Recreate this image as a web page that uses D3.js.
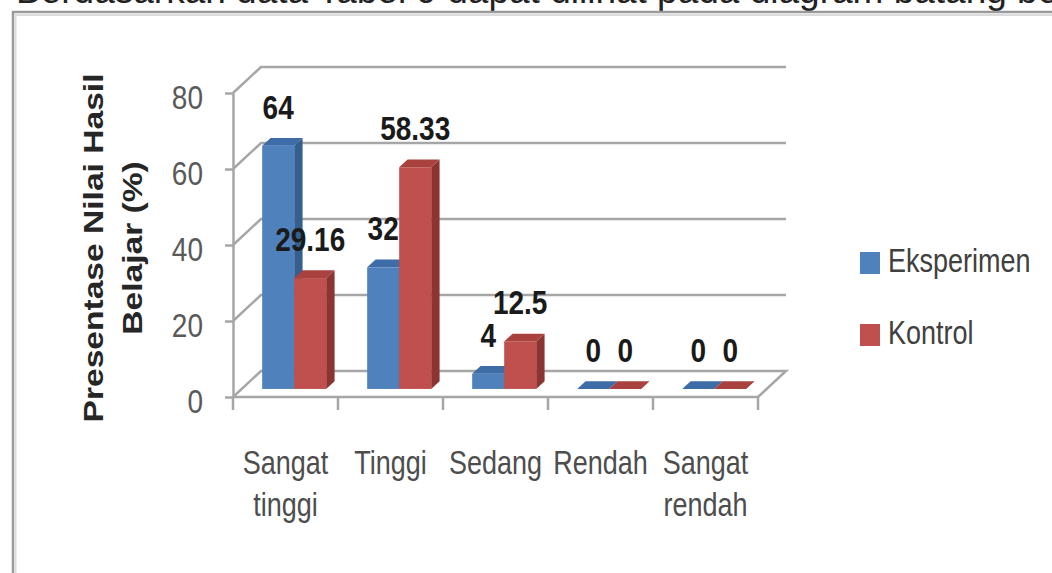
<!DOCTYPE html>
<html>
<head>
<meta charset="utf-8">
<script src="https://cdn.jsdelivr.net/npm/d3@7"></script>
<style>
  body { margin: 0; background: #fff; }
  svg { display: block; font-family: "Liberation Sans", Arial, sans-serif; }
</style>
</head>
<body>
<svg width="1052" height="573"></svg>
<script>
// data
const categories = ["Sangat tinggi", "Tinggi", "Sedang", "Rendah", "Sangat rendah"];
const categoryLines = [["Sangat", "tinggi"], ["Tinggi"], ["Sedang"], ["Rendah"], ["Sangat", "rendah"]];
const series = ["Eksperimen", "Kontrol"];
const eksperimen = [64, 32, 4, 0, 0];
const kontrol = [29.16, 58.33, 12.5, 0, 0];
const yTicks = [0, 20, 40, 60, 80];

let svg = d3.select("svg"),
    width = +svg.attr("width"),
    height = +svg.attr("height");

const SY = 1.2;          // screenshot is stretched vertically
const DX = 28, DY = -26; // 3d depth of the plot box
const F0 = 0.31, F1 = 0.61; // bar depth, as part of the box depth

let x0 = d3.scaleBand().domain(categories).range([233, 758]);
let x1 = d3.scaleBand().domain(series).range([0, x0.bandwidth()]).paddingOuter(0.64);
let y = d3.scaleLinear().domain([0, 80]).range([397, 93]);
let frontC = d3.scaleOrdinal().domain(series).range(["#4F81BD", "#C0504D"]);
let sideC = d3.scaleOrdinal().domain(series).range(["#34608f", "#8c3431"]);
let topC = d3.scaleOrdinal().domain(series).range(["#3d6ca6", "#a9423f"]);

// cut-off text line above the chart
svg.append("text")
    .attr("x", 16).attr("y", 3)
    .attr("font-size", 37).attr("fill", "#222")
    .text("Berdasarkan data Tabel 9 dapat dilihat pada diagram batang berikut");

// chart frame
svg.append("rect")
    .attr("x", 13).attr("y", 12)
    .attr("width", width + 20).attr("height", height + 20)
    .attr("fill", "#fff")
    .attr("stroke", "#9a9a9a").attr("stroke-width", 2.5);
svg.append("path")
    .attr("d", `M15.5,${height}V15H${width}`)
    .attr("fill", "none").attr("stroke", "#dcdcdc").attr("stroke-width", 2);

let walls = svg.append("g")
    .attr("stroke", "#a6a6a6").attr("stroke-width", 2.5).attr("fill", "none");

// floor
let [fx0, fx1] = x0.range();
walls.append("path")
    .attr("fill", "#fff")
    .attr("d", `M${fx0},${y(0)}L${fx1},${y(0)}L${fx1 + DX},${y(0) + DY}L${fx0 + DX},${y(0) + DY}Z`);

// gridlines on back wall + side diagonals
walls.selectAll(".grid")
    .data(yTicks.filter(v => v > 0)).enter().append("path")
        .attr("class", "grid")
        .attr("d", v => `M${fx0},${y(v)}L${fx0 + DX},${y(v) + DY}H${fx1 + DX}`);

// y axis
let yAxis = svg.append("g")
    .attr("transform", `translate(${fx0},0)`)
    .call(d3.axisLeft(y).tickValues(yTicks).tickSize(8).tickSizeOuter(0).tickPadding(22));
yAxis.select(".domain").attr("stroke", "#a6a6a6").attr("stroke-width", 2.5);
yAxis.selectAll(".tick line").attr("stroke", "#a6a6a6").attr("stroke-width", 2.5);
yAxis.selectAll(".tick text")
    .attr("font-size", 28).attr("font-family", "Liberation Sans, Arial, sans-serif")
    .attr("fill", "#595959").attr("dy", "0.46em")
    .attr("transform", `scale(1,${SY})`);

// x axis ticks on band edges
let edges = categories.map(c => x0(c)).concat([fx1]);
svg.append("g").selectAll("line")
    .data(edges).enter().append("line")
        .attr("x1", d => d).attr("x2", d => d)
        .attr("y1", y(0)).attr("y2", y(0) + 13)
        .attr("stroke", "#a6a6a6").attr("stroke-width", 2.5);

// category labels
let cat = svg.append("g").selectAll("g")
    .data(categories).enter().append("g")
        .attr("transform", d => `translate(${x0(d) + x0.bandwidth() / 2},0)`);
cat.each(function(d, i) {
    d3.select(this).selectAll("text")
        .data(categoryLines[i]).enter().append("text")
            .attr("transform", (t, k) => `translate(0,${474 + k * 42}) scale(1,${SY})`)
            .attr("text-anchor", "middle")
            .attr("font-size", 27).attr("fill", "#4d4d4d")
            .text(t => t);
});

// bars
let bars = [];
categories.forEach((c, i) => {
    bars.push({cat: c, s: series[0], v: eksperimen[i]});
    bars.push({cat: c, s: series[1], v: kontrol[i]});
});

let bw = x1.bandwidth();
let ox = DX * F0, oy = DY * F0;
let dx = DX * (F1 - F0), dy = DY * (F1 - F0);

let barG = svg.append("g").selectAll("g")
    .data(bars).enter().append("g");
barG.each(function(d) {
    let g = d3.select(this);
    let bx = x0(d.cat) + x1(d.s) + ox;
    let yt = y(d.v) + oy, yb = y(0) + oy;
    g.append("path")
        .attr("fill", sideC(d.s))
        .attr("d", `M${bx + bw},${yt}L${bx + bw + dx},${yt + dy}L${bx + bw + dx},${yb + dy}L${bx + bw},${yb}Z`);
    g.append("rect")
        .attr("x", bx).attr("y", yt)
        .attr("width", bw).attr("height", yb - yt)
        .attr("fill", frontC(d.s));
    g.append("path")
        .attr("fill", topC(d.s))
        .attr("d", `M${bx},${yt}L${bx + dx},${yt + dy}L${bx + bw + dx},${yt + dy}L${bx + bw},${yt}Z`);
});

// value labels
svg.append("g").selectAll("text")
    .data(bars).enter().append("text")
        .attr("transform", d => `translate(${x0(d.cat) + x1(d.s) + ox + bw / 2},${y(d.v) + oy - 27}) scale(1,${SY})`)
        .attr("text-anchor", "middle")
        .attr("font-size", 28).attr("font-weight", "bold").attr("fill", "#1a1a1a")
        .text(d => String(d.v));

// y title
let title = svg.append("g")
    .attr("transform", `translate(0,248) scale(1,${SY})`);
[["Presentase Nilai Hasil", 93], ["Belajar (%)", 132]].forEach(([t, x]) => {
    title.append("text")
        .attr("transform", `translate(${x + 10},0) rotate(-90)`)
        .attr("text-anchor", "middle")
        .attr("font-size", 28).attr("font-weight", "bold").attr("fill", "#262626")
        .text(t);
});

// legend
let leg = svg.append("g").selectAll("g")
    .data(series).enter().append("g")
        .attr("transform", (d, i) => `translate(860,${263 + i * 72})`);
leg.append("rect")
    .attr("x", 0).attr("y", -11).attr("width", 20).attr("height", 22)
    .attr("fill", d => frontC(d));
leg.append("text")
    .attr("transform", `translate(28,9) scale(1,${SY})`)
    .attr("font-size", 27).attr("fill", "#404040")
    .text(d => d);
</script>
</body>
</html>
